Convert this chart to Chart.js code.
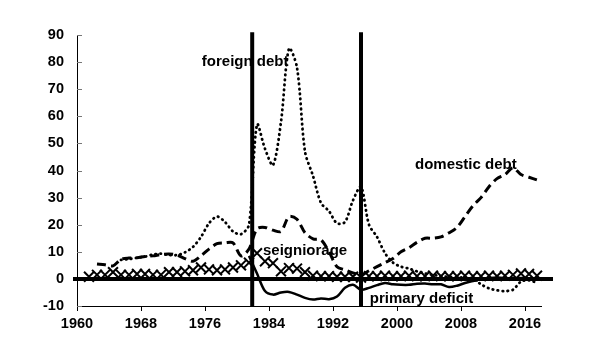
<!DOCTYPE html>
<html><head><meta charset="utf-8">
<script src="https://cdn.jsdelivr.net/npm/chart.js@4/dist/chart.umd.min.js"></script>
<style>html,body{margin:0;padding:0;background:#fff}#wrap{width:600px;height:360px}</style>
</head><body><div id="wrap"><canvas id="c" width="600" height="360"></canvas></div>
<script>
const years = [1961,1962,1963,1964,1965,1966,1967,1968,1969,1970,
  1971,1972,1973,1974,1975,1976,1977,1978,1979,1980,
  1981,1982,1983,1984,1985,1986,1987,1988,1989,1990,
  1991,1992,1993,1994,1995,1996,1997,1998,1999,2000,
  2001,2002,2003,2004,2005,2006,2007,2008,2009,2010,
  2011,2012,2013,2014,2015,2016,2017];

const foreignDebt = [null,null,null,null,7,7.3,7.8,8.2,9,9.3,
  8.8,8.8,9.8,11.8,15.5,20.5,23,21,17.5,16.5,
  20,57,48,42,58,85,78,47,38,28,
  25,20.5,21,29,34,20,15.5,9.5,6,4.5,
  3.8,2.8,2,1.5,1,0.8,0.5,0.5,0,-2,
  -3.5,-4.2,-4.5,-4,-1,-0.5,-1.5];

const domesticDebt = [null,5.5,5.2,4.8,7.2,7.7,7.8,8.3,8.5,9,
  9.2,8.8,7.5,6.5,8.5,11,13,13.3,13.3,8.5,
  11,18.5,19,18,17.5,23,22,17,14.8,14.4,
  10,4.5,3.3,2.2,1.5,3,4.5,6,7.5,10,
  11.5,13.5,15,15,15.5,17,19,23,27,30,
  34,37,38.5,41,38.5,37.5,36.5];

const seigniorage = [0.8,1.5,1.5,2.5,1.5,1.5,1.8,1.8,1.5,1.5,
  2.5,2.5,2.8,3.2,4.2,3.5,3.2,3.5,4.2,5,
  6,9.5,6.5,5.8,2.8,4,3.8,2.5,1.2,1,
  1,0.8,0.8,0.8,0.5,1,1,1.2,1,1,
  1.2,1,1,1.2,1,1,1,1.2,1,1,
  1.2,1,1.2,1.5,2,1.8,1.2];

const primaryDeficit = [null,null,null,null,null,null,null,null,null,null,
  null,null,null,null,null,null,null,null,null,null,
  8.5,2,-4.5,-5.8,-5,-4.8,-5.8,-7,-7.6,-7.2,
  -7.5,-6.5,-3.3,-2.2,-4,-3.3,-2.3,-1.5,-2,-2.2,
  -2.2,-1.8,-1.7,-2,-2,-3,-2.5,-1.5,-0.8,0,
  0.3,0.5,0.3,0,0.3,0.2,-0.3];

const eventYears = [1981.9, 1995.5];          // vertical separators
const eventRange = [-10, 91];
const zeroLineSpan = [1959.5, 2019.5];
const xTicks = [1960,1968,1976,1984,1992,2000,2008,2016];
const yTicks = [-10,0,10,20,30,40,50,60,70,80,90];

const seriesLabels = [
  {text:'foreign debt', x:1975.6, y:78.6},
  {text:'domestic debt', x:2002.25, y:40.6},
  {text:'seigniorage', x:1983.25, y:8.9},
  {text:'primary deficit', x:1996.6, y:-8.9}
];

const FONT = '"Liberation Sans", Arial, sans-serif';
const pts = arr => years.map((yr,i)=>({x: yr + 0.5, y: arr[i]}));

const labelPlugin = {
  id:'labels',
  beforeDatasetsDraw(chart){
    const {ctx, scales:{x,y}} = chart;
    ctx.save();
    ctx.fillStyle = '#000';
    ctx.font = 'bold 15px ' + FONT;
    ctx.textAlign = 'left';
    ctx.textBaseline = 'alphabetic';
    seriesLabels.forEach(l => ctx.fillText(l.text, x.getPixelForValue(l.x), y.getPixelForValue(l.y)));
    ctx.strokeStyle = '#777';
    ctx.lineWidth = 1;
    yTicks.forEach(v => {
      const py = Math.round(y.getPixelForValue(v)) + 0.5;
      ctx.beginPath(); ctx.moveTo(x.left, py); ctx.lineTo(x.left + 5, py); ctx.stroke();
    });
    ctx.restore();
  }
};

const datasets = [
  {label:'zero', data: zeroLineSpan.map(v=>({x:v, y:0})), borderColor:'#000', borderWidth:4, pointRadius:0, clip:false, order:0},
  ...eventYears.map(ev => ({label:'event', data: eventRange.map(v=>({x:ev, y:v})), borderColor:'#000', borderWidth:4, pointRadius:0, clip:false, order:1})),
  {label:'seigniorage', data: pts(seigniorage), showLine:false, pointStyle:'crossRot', pointRadius:7, pointBorderWidth:2, pointBorderColor:'#000', borderColor:'#000', clip:false, order:2},
  {label:'primary deficit', data: pts(primaryDeficit), borderColor:'#000', borderWidth:2.5, pointRadius:0, tension:0.3, order:3},
  {label:'domestic debt', data: pts(domesticDebt), borderColor:'#000', borderWidth:3, borderDash:[9,5], pointRadius:0, tension:0.3, order:4},
  {label:'foreign debt', data: pts(foreignDebt), borderColor:'#000', borderWidth:2.8, borderDash:[0.5,4.5], borderCapStyle:'round', pointRadius:0, tension:0.3, order:5}
];

new Chart(document.getElementById('c'), {
  type:'line',
  data:{datasets},
  options:{
    responsive:false, animation:false, devicePixelRatio:1,
    layout:{padding:{left:0, right:59, top:35, bottom:0}},
    plugins:{legend:{display:false}, tooltip:{enabled:false}},
    scales:{
      x:{type:'linear', min:1960, max:2018,
        afterBuildTicks: s => { s.ticks = xTicks.map(v=>({value:v})); },
        afterFit: s => { s.height = 54; },
        ticks:{callback:v=>String(v), color:'#000', font:{family:FONT, size:14.5, weight:'bold'}, padding:4, maxRotation:0, autoSkip:false},
        grid:{drawOnChartArea:false, drawTicks:true, tickLength:5, color:'#000'},
        border:{display:true, color:'#000', width:1}
      },
      y:{type:'linear', min:-10, max:90,
        afterBuildTicks: s => { s.ticks = yTicks.map(v=>({value:v})); },
        afterFit: s => { s.width = 77; },
        ticks:{color:'#000', font:{family:FONT, size:14.5, weight:'bold'}, padding:13},
        grid:{drawOnChartArea:false, drawTicks:false},
        border:{display:true, color:'#000', width:1}
      }
    }
  },
  plugins:[labelPlugin]
});
</script></body></html>
